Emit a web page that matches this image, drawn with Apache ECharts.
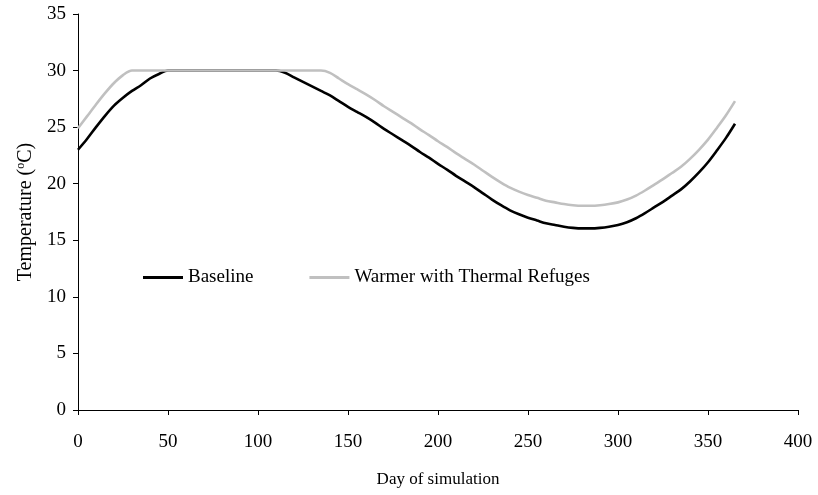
<!DOCTYPE html>
<html>
<head>
<meta charset="utf-8">
<script src="https://cdn.jsdelivr.net/npm/echarts@6/dist/echarts.min.js"></script>
<style>html,body{margin:0;padding:0;background:#fff;}#c{width:818px;height:495px;}</style>
</head>
<body>
<div id="c"></div>
<script>
var days = [0,5,10,15,20,25,30,35,40,45,50,55,60,65,70,75,80,85,90,95,100,105,110,115,120,125,130,135,140,145,150,155,160,165,170,175,180,185,190,195,200,205,210,215,220,225,230,235,240,245,250,255,260,265,270,275,280,285,290,295,300,305,310,315,320,325,330,335,340,345,350,355,360,365];
var baseline = [23.0,23.95,25.0,26.0,26.9,27.6,28.2,28.7,29.3,29.7,30,30,30,30,30,30,30,30,30,30,30,30,30,29.8,29.4,29.0,28.6,28.2,27.8,27.3,26.8,26.35,25.9,25.4,24.85,24.35,23.85,23.35,22.8,22.3,21.75,21.25,20.7,20.2,19.7,19.15,18.6,18.1,17.65,17.3,17.0,16.75,16.5,16.35,16.2,16.1,16.05,16.05,16.1,16.2,16.35,16.6,16.95,17.4,17.9,18.4,18.95,19.5,20.2,21.0,21.9,22.95,24.05,25.3];
var warmer = [24.9,25.95,27.0,28.0,28.9,29.6,30,30,30,30,30,30,30,30,30,30,30,30,30,30,30,30,30,30,30,30,30,30,29.8,29.3,28.8,28.35,27.9,27.4,26.85,26.35,25.85,25.35,24.8,24.3,23.75,23.25,22.7,22.2,21.7,21.15,20.6,20.1,19.65,19.3,19.0,18.75,18.5,18.35,18.2,18.1,18.05,18.05,18.1,18.2,18.35,18.6,18.95,19.4,19.9,20.4,20.95,21.5,22.2,23.0,23.9,24.95,26.05,27.3];
var seriesNames = ['Baseline','Warmer with Thermal Refuges'];

function pairs(xs, ys){ return xs.map(function(x,i){ return [x, ys[i]]; }); }

var font = '"Liberation Serif", "Times New Roman", serif';
var chart = echarts.init(document.getElementById('c'), null, {renderer:'canvas'});
chart.setOption({
  animation:false,
  backgroundColor:'#fff',
  textStyle:{fontFamily:font},
  grid:{left:78,right:20,top:14,bottom:85,containLabel:false},
  legend:{
    left:143, top:268, padding:0, itemWidth:40, itemHeight:3, itemGap:56,
    icon:'rect',
    textStyle:{fontFamily:font,fontSize:19,color:'#000'},
    data:seriesNames
  },
  xAxis:{
    type:'value', min:0, max:400, interval:50,
    name:'Day of simulation', nameLocation:'middle', nameGap:61,
    nameTextStyle:{fontFamily:font,fontSize:17,color:'#000'},
    axisLine:{show:true,onZero:false,lineStyle:{color:'#000',width:1}},
    axisTick:{show:true,length:5,lineStyle:{color:'#000'}},
    axisLabel:{fontFamily:font,fontSize:19,color:'#000',margin:23},
    splitLine:{show:false}
  },
  yAxis:{
    type:'value', min:0, max:35, interval:5,
    name:'Temperature ({sup|o}C)',
    nameLocation:'middle', nameGap:35,
    nameTextStyle:{fontFamily:font,fontSize:20,color:'#000',
      rich:{sup:{fontFamily:font,fontSize:12,color:'#000',padding:[0,0,10,0]}}},
    axisLine:{show:true,lineStyle:{color:'#000',width:1}},
    axisTick:{show:true,length:5,lineStyle:{color:'#000'}},
    axisLabel:{fontFamily:font,fontSize:19,color:'#000',margin:12},
    splitLine:{show:false}
  },
  series:[
    {name:seriesNames[0], type:'line', data:pairs(days,baseline), showSymbol:false, symbol:'none', smooth:0.3,
     lineStyle:{color:'#000',width:2.6}, itemStyle:{color:'#000'}, z:2},
    {name:seriesNames[1], type:'line', data:pairs(days,warmer), showSymbol:false, symbol:'none', smooth:0.3,
     lineStyle:{color:'#c0c0c0',width:2.6}, itemStyle:{color:'#c0c0c0'}, z:3}
  ]
});
</script>
</body>
</html>
